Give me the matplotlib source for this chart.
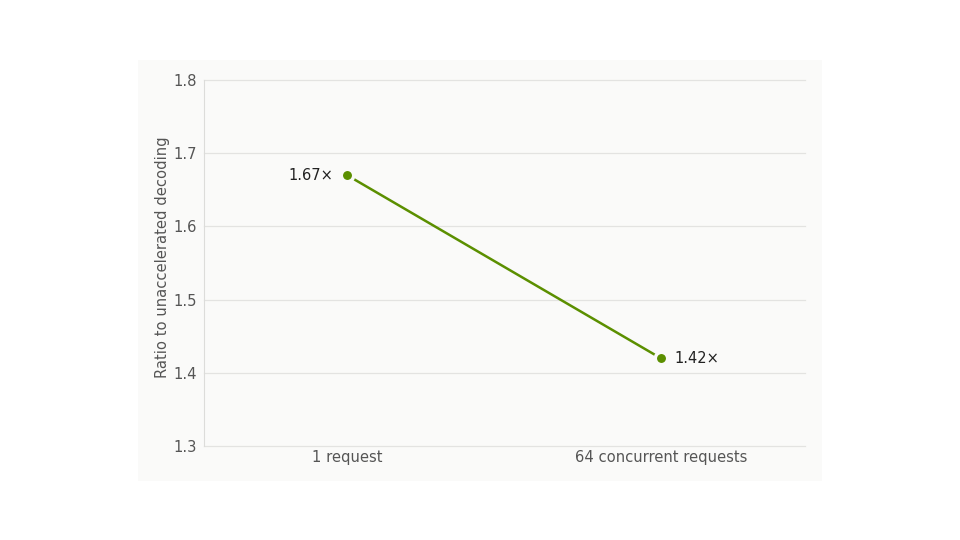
import matplotlib.pyplot as plt
from matplotlib.patches import Rectangle

categories = ["1 request", "64 concurrent requests"]
ratios = [1.67, 1.42]
labels = ["1.67\u00d7", "1.42\u00d7"]

green = "#5b8f00"

fig = plt.figure(figsize=(9.6, 5.4), dpi=100)
fig.patch.set_facecolor("white")
# light panel behind the chart
panel = Rectangle((138 / 960, 1 - 481 / 540), (822 - 138) / 960, (481 - 60) / 540,
                  transform=fig.transFigure, facecolor="#fafaf9", edgecolor="none", zorder=-10)
fig.add_artist(panel)

ax = fig.add_axes([204 / 960, 1 - 446 / 540, (805 - 204) / 960, (446 - 80) / 540])
ax.set_facecolor("none")

x = list(range(len(categories)))
ax.plot(x, ratios, color=green, lw=1.8, zorder=2)
ax.scatter(x, ratios, s=80, color=green, edgecolors="#fafaf9", linewidths=2.5, zorder=3)

ax.annotate(labels[0], (x[0], ratios[0]), xytext=(-10, 0), textcoords="offset points",
            ha="right", va="center", fontsize=10.5, color="#222222")
ax.annotate(labels[1], (x[1], ratios[1]), xytext=(10, 0), textcoords="offset points",
            ha="left", va="center", fontsize=10.5, color="#222222")

ax.set_xlim(-0.456, 1.46)
ax.set_ylim(1.3, 1.8)
ax.set_yticks([1.3, 1.4, 1.5, 1.6, 1.7, 1.8])
ax.set_xticks(x)
ax.set_xticklabels(categories)
ax.grid(axis="y", color="#e3e3e1", lw=0.9)
for gl in ax.get_ygridlines():
    gl.set_clip_on(False)
ax.set_axisbelow(True)
for s in ["top", "right", "bottom"]:
    ax.spines[s].set_visible(False)
ax.spines["left"].set_color("#dcdcda")
ax.tick_params(length=0, labelsize=10.6, colors="#555555", pad=5)
ax.tick_params(axis="x", pad=3)
ax.set_ylabel("Ratio to unaccelerated decoding", fontsize=10.6, color="#555555")
ax.yaxis.set_label_coords(-0.056, 0.516)

fig.savefig("out.png", dpi=100)
